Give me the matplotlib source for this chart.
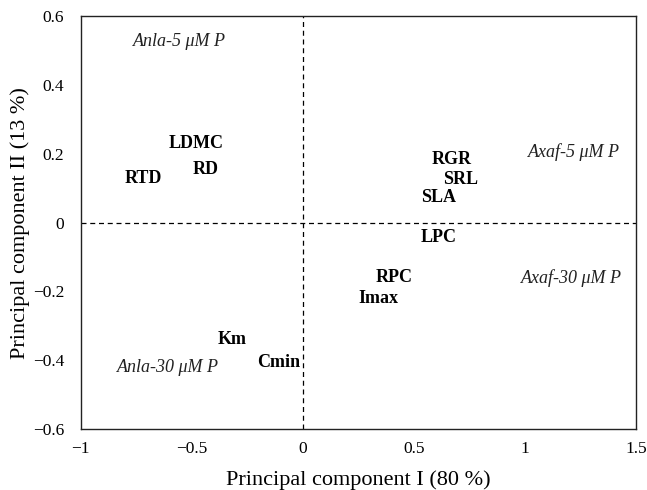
import matplotlib
matplotlib.use('Agg')
import matplotlib.pyplot as plt

# PCA loadings (variable labels placed at their coordinates)
variables = ['LDMC', 'RD', 'RTD', 'RGR', 'SRL', 'SLA', 'LPC', 'RPC', 'Imax', 'Km', 'Cmin']
pc1 = [-0.48, -0.44, -0.72, 0.67, 0.71, 0.61, 0.61, 0.41, 0.34, -0.32, -0.11]
pc2 = [0.231, 0.153, 0.128, 0.182, 0.124, 0.073, -0.044, -0.161, -0.221, -0.339, -0.407]

# group annotations
groups = ['Anla-5 μM P', 'Axaf-5 μM P', 'Axaf-30 μM P', 'Anla-30 μM P']
group_x = [-0.554, 1.22, 1.21, -0.608]
group_y = [0.525, 0.205, -0.161, -0.42]

x_ticks = [-1, -0.5, 0, 0.5, 1, 1.5]
x_tick_labels = ['\u22121', '\u22120.5', '0', '0.5', '1', '1.5']
y_ticks = [-0.6, -0.4, -0.2, 0, 0.2, 0.4, 0.6]
y_tick_labels = ['\u22120.6', '\u22120.4', '\u22120.2', '0', '0.2', '0.4', '0.6']

plt.rcParams['font.family'] = ['Liberation Serif', 'DejaVu Serif']
plt.rcParams['axes.unicode_minus'] = True

fig = plt.figure(figsize=(6.47, 4.90), dpi=100)
ax = fig.add_axes([0.125, 0.1245, 0.858, 0.8425])

ax.axhline(0, color='black', linestyle=(0, (4, 3)), linewidth=0.9)
ax.axvline(0, color='black', linestyle=(0, (4, 3)), linewidth=0.9)

for name, x, y in zip(variables, pc1, pc2):
    ax.text(x, y, name, fontsize=13, fontweight='bold', ha='center', va='center')

for name, x, y in zip(groups, group_x, group_y):
    ax.text(x, y, name, fontsize=13, style='italic', ha='center', va='center', color='#222222')

ax.set_xlim(-1, 1.5)
ax.set_ylim(-0.6, 0.6)
ax.set_xticks(x_ticks)
ax.set_xticklabels(x_tick_labels)
ax.set_yticks(y_ticks)
ax.set_yticklabels(y_tick_labels)
ax.tick_params(length=0, labelsize=12.5)
ax.tick_params(axis='x', pad=9)
ax.tick_params(axis='y', pad=12)

for spine in ax.spines.values():
    spine.set_linewidth(1.0)
    spine.set_color('#222222')

ax.set_xlabel('Principal component I (80 %)', fontsize=16, labelpad=9)
ax.set_ylabel('Principal component II (13 %)', fontsize=16, labelpad=2)

fig.savefig('out.png', dpi=100)
